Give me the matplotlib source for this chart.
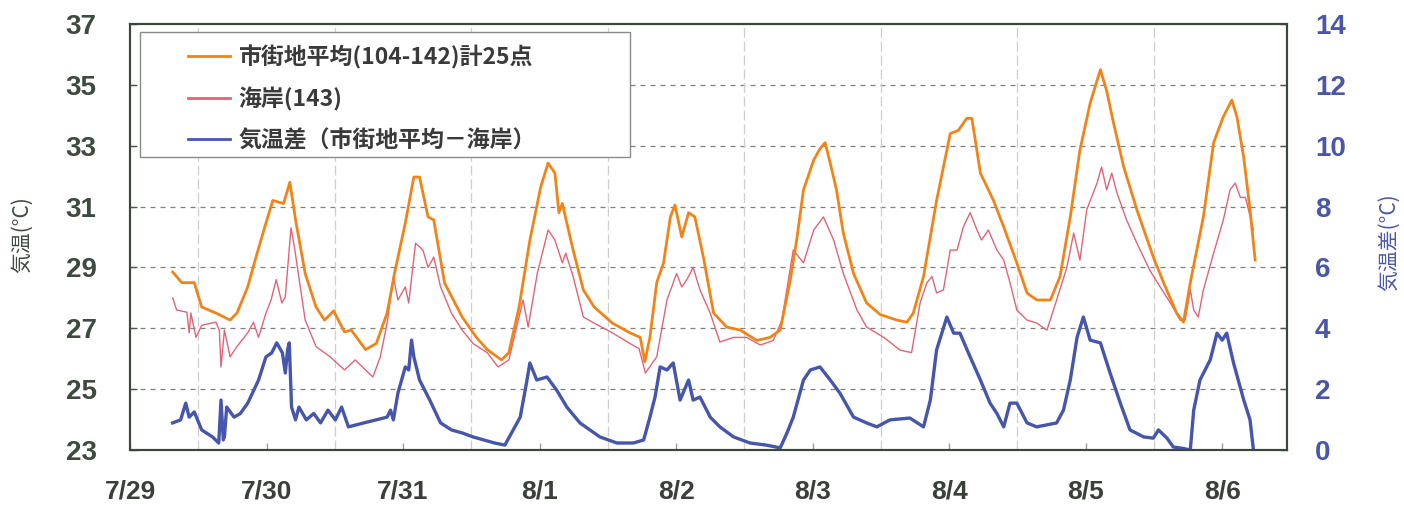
import matplotlib
matplotlib.use("Agg")
import matplotlib.pyplot as plt
from matplotlib.patches import Rectangle
from matplotlib.ticker import FixedLocator

# Time axis: hours counted from 7/29 00:00
date_labels = ["7/29", "7/30", "7/31", "8/1", "8/2", "8/3", "8/4", "8/5", "8/6"]

urban_hours = [19.5, 21.1, 23.3, 24.6, 27.1, 29.6, 30.8, 32.7, 34.0, 35.9, 37.1, 39.0, 40.1, 41.2,
               42.8, 44.7, 46.2, 47.8, 49.7, 50.9, 53.4, 55.3, 57.2, 58.5, 60.4, 61.9, 62.9, 64.4,
               65.4, 67.3, 70.4, 72.9, 74.8, 77.3, 78.6, 80.4, 82.3, 84.2, 85.5, 86.7, 87.4, 88.0,
               89.9, 91.7, 93.6, 96.8, 99.9, 101.7, 102.5, 103.4, 104.6, 105.8, 107.0, 107.8, 109.0,
               110.2, 111.3, 112.8, 114.6, 116.9, 119.3, 122.2, 124.5, 126.3, 128.0, 129.2, 130.4,
               132.2, 133.3, 134.2, 135.1, 136.2, 137.4, 139.2, 141.5, 143.9, 146.8, 148.6, 149.7,
               151.5, 153.8, 156.2, 157.6, 159.1, 160.0, 161.5, 163.8, 165.6, 167.9, 169.7, 171.4,
               173.8, 175.5, 177.3, 179.0, 180.8, 182.6, 183.7, 184.9, 186.7, 189.0, 191.9, 193.7,
               196.0, 197.2, 198.4, 200.7, 202.5, 204.2, 205.7, 206.6, 207.8, 208.9, 209.8]
urban_temp = [28.85, 28.5, 28.5, 27.7, 27.5, 27.27, 27.5, 28.36, 29.24, 30.46, 31.2, 31.1, 31.8, 30.46,
              28.8, 27.7, 27.27, 27.57, 26.88, 26.94, 26.3, 26.5, 27.5, 28.8, 30.46, 31.97, 31.97, 30.66,
              30.56, 28.49, 27.37, 26.7, 26.3, 25.96, 26.2, 27.7, 29.9, 31.64, 32.43, 32.1, 30.8, 31.1,
              29.57, 28.26, 27.7, 27.17, 26.85, 26.7, 25.9, 26.7, 28.5, 29.15, 30.66, 31.05, 30.0,
              30.8, 30.66, 29.34, 27.5, 27.04, 26.94, 26.6, 26.7, 26.94, 28.5, 29.9, 31.55,
              32.53, 32.9, 33.1, 32.43, 31.55, 30.13, 28.8, 27.83, 27.45, 27.27, 27.2, 27.5,
              28.7, 31.2, 33.4, 33.5, 33.9, 33.9, 32.1, 31.2, 30.33, 29.15, 28.16, 27.93,
              27.93, 28.7, 30.66, 32.86, 34.4, 35.5, 34.8, 33.75, 32.3, 30.9, 29.34, 28.5,
              27.5, 27.2, 28.5, 30.66, 33.1, 33.95, 34.5, 33.95, 32.6, 30.9, 29.24]

coast_hours = [19.5, 20.2, 22.0, 22.4, 22.7, 23.6, 24.6, 27.1, 27.7, 28.0, 28.6, 29.6, 30.8, 32.7,
               33.7, 34.6, 35.9, 36.8, 37.7, 38.7, 39.3, 40.3, 40.9, 42.8, 44.7, 47.2, 49.7, 51.6,
               53.4, 54.7, 56.0, 57.2, 58.3, 59.1, 60.4, 61.0, 62.2, 63.5, 64.4, 65.4, 66.6, 68.5,
               70.4, 72.3, 74.8, 76.7, 78.6, 80.4, 81.1, 82.0, 83.6, 85.5, 86.7, 88.0, 88.6, 89.9,
               91.7, 93.6, 96.8, 99.9, 101.5, 102.6, 104.6, 106.4, 108.1, 109.0, 109.9, 111.0,
               112.2, 114.0, 115.7, 118.1, 120.4, 122.8, 125.1, 126.6, 128.6, 130.4, 132.2, 133.9,
               135.7, 137.4, 139.8, 141.5, 144.5, 147.4, 149.4, 150.9, 152.1, 153.0, 153.8, 155.0,
               156.2, 157.4, 158.5, 159.7, 160.9, 161.7, 162.9, 164.4, 165.6, 166.7, 167.9, 169.7,
               171.4, 173.2, 174.9, 176.7, 177.9, 179.0, 180.2, 182.0, 182.8, 183.7, 184.6, 185.5,
               187.2, 189.0, 191.3, 193.1, 194.9, 196.6, 197.5, 198.4, 199.0, 199.8, 200.7, 202.5,
               204.2, 205.4, 206.3, 207.2, 208.1, 209.5]
coast_temp = [28.0, 27.6, 27.53, 26.85, 27.5, 26.7, 27.1, 27.2, 26.94, 25.73, 26.94, 26.06, 26.4, 26.85,
              27.2, 26.7, 27.5, 27.93, 28.6, 27.83, 28.03, 30.3, 29.67, 27.27, 26.4, 26.06, 25.63, 25.96,
              25.63, 25.4, 26.06, 27.17, 28.7, 27.93, 28.36, 27.83, 29.8, 29.57, 29.0, 29.34, 28.36, 27.5,
              26.94, 26.5, 26.2, 25.73, 25.96, 27.37, 27.93, 27.04, 28.8, 30.23, 29.9, 29.15, 29.47, 28.7,
              27.37, 27.17, 26.85, 26.5, 26.33, 25.53, 26.06, 27.93, 28.8, 28.36, 28.6, 29.0,
              28.26, 27.5, 26.55, 26.7, 26.7, 26.45, 26.6, 27.27, 29.57, 29.15, 30.23, 30.66,
              29.9, 28.8, 27.6, 27.04, 26.7, 26.28, 26.2, 27.83, 28.5, 28.7, 28.16, 28.26,
              29.57, 29.57, 30.33, 30.8, 30.23, 29.9, 30.23, 29.57, 29.24, 28.5, 27.6, 27.27,
              27.17, 26.94, 27.93, 29.0, 30.13, 29.24, 30.9, 31.77, 32.3, 31.55, 32.1, 31.45,
              30.56, 29.8, 28.9, 28.36, 27.83, 27.27, 27.27, 28.26, 27.6, 27.37, 28.26, 29.47,
              30.56, 31.55, 31.77, 31.3, 31.3, 30.23]

diff_hours = [19.5, 20.9, 21.8, 22.4, 23.3, 24.6, 26.5, 27.6, 28.0, 28.4, 28.6, 29.0, 30.3, 31.4,
              32.7, 34.6, 35.9, 36.9, 37.8, 38.8, 39.3, 39.7, 40.0, 40.4, 41.1, 41.7, 43.0, 44.3,
              45.5, 46.8, 48.1, 49.2, 50.4, 53.1, 55.3, 57.2, 57.8, 58.3, 59.1, 60.4, 61.0, 61.5,
              61.9, 62.9, 64.7, 66.6, 68.5, 70.4, 72.3, 74.2, 76.1, 77.9, 80.6, 81.7, 82.3, 83.5,
              85.3, 87.0, 88.8, 91.1, 94.6, 97.6, 100.5, 102.3, 103.4, 104.3, 105.2, 106.4, 107.5,
              108.7, 110.2, 111.0, 112.2, 114.0, 115.7, 118.1, 121.0, 123.9, 126.3, 127.5, 128.6,
              130.4, 131.6, 133.3, 135.1, 136.8, 139.2, 141.5, 143.3, 145.6, 149.1, 151.5, 152.7,
              153.8, 155.6, 156.8, 157.9, 159.7, 161.5, 163.2, 164.4, 165.6, 166.7, 167.9, 169.7,
              171.4, 174.9, 176.1, 177.3, 178.5, 179.6, 180.8, 182.6, 184.3, 186.1, 187.8, 190.2,
              191.9, 192.8, 194.3, 195.4, 197.2, 198.4, 199.0, 200.1, 201.9, 203.1, 204.0, 204.8,
              206.0, 207.8, 208.9, 209.5]
diff_temp = [0.89, 0.99, 1.54, 1.08, 1.25, 0.66, 0.43, 0.23, 1.64, 0.33, 0.43, 1.41, 1.08, 1.2,
             1.54, 2.3, 3.06, 3.19, 3.52, 3.19, 2.53, 3.29, 3.52, 1.41, 0.99, 1.41, 0.99, 1.2,
             0.89, 1.31, 0.99, 1.41, 0.76, 0.89, 0.99, 1.08, 1.31, 0.99, 1.87, 2.73, 2.63, 3.61,
             3.06, 2.3, 1.64, 0.89, 0.66, 0.56, 0.43, 0.33, 0.23, 0.16, 1.08, 2.2, 2.86, 2.3,
             2.4, 1.97, 1.41, 0.89, 0.43, 0.23, 0.23, 0.33, 1.08, 1.74, 2.73, 2.63, 2.86,
             1.64, 2.3, 1.64, 1.74, 1.08, 0.76, 0.43, 0.23, 0.16, 0.07, 0.56, 1.08,
             2.3, 2.63, 2.73, 2.3, 1.87, 1.08, 0.89, 0.76, 0.99, 1.05, 0.76, 1.64,
             3.29, 4.37, 3.84, 3.84, 3.06, 2.3, 1.54, 1.2, 0.76, 1.54, 1.54, 0.89,
             0.76, 0.89, 1.31, 2.3, 3.71, 4.37, 3.61, 3.52, 2.53, 1.54, 0.66, 0.43,
             0.39, 0.66, 0.39, 0.1, 0.05, 0.0, 1.31, 2.3, 2.96, 3.84, 3.61, 3.84,
             2.86, 1.64, 0.99, 0.0]

legend_labels = ["市街地平均(104-142)計25点", "海岸(143)", "気温差（市街地平均－海岸）"]

LEFT_COLOR = "#3e4a40"
RIGHT_COLOR = "#4a57a6"
CJK = ["Noto Sans CJK JP", "DejaVu Sans"]
NUM = ["Liberation Sans", "DejaVu Sans"]

fig = plt.figure(figsize=(14.04, 5.09), dpi=100)
ax = fig.add_axes([130 / 1404, 59 / 509, 1157 / 1404, 426 / 509])
ax2 = ax.twinx()

l1, = ax.plot(urban_hours, urban_temp, color="#f08418", lw=2.0, zorder=3)
l2, = ax.plot(coast_hours, coast_temp, color="#e06478", lw=1.0, zorder=2)
l3, = ax2.plot(diff_hours, diff_temp, color="#4656ab", lw=2.4, zorder=2)

ax.set_xlim(12, 215.4)
ax.set_ylim(23, 37)
ax2.set_ylim(0, 14)

ax.set_yticks(range(23, 38, 2))
ax2.set_yticks(range(0, 15, 2))
ax.set_xticks([12 + 24 * i for i in range(len(date_labels))])
ax.set_xticklabels(date_labels)
ax.xaxis.set_minor_locator(FixedLocator([24 * i for i in range(1, 9)]))

# grid: dashed horizontals, faint verticals at midnight
for yv in range(25, 37, 2):
    ax.axhline(yv, color="#808080", lw=0.9, ls=(0, (4, 4)), zorder=1)
for xv in range(24, 200, 24):
    ax.axvline(xv, color="#cfcfcf", lw=0.9, ls=(0, (8, 3)), zorder=1)

ax.tick_params(axis="y", direction="in", length=5, width=1, pad=24, labelsize=20,
               labelcolor=LEFT_COLOR, color="#555555")
ax.tick_params(axis="x", which="major", direction="in", length=5, width=1, pad=21,
               labelsize=19, labelcolor="#3a3f3a", color="#999999")
ax.tick_params(axis="x", which="minor", length=0)
ax2.tick_params(axis="y", direction="in", length=5, width=1, pad=20, labelsize=20,
                labelcolor=RIGHT_COLOR, color="#555555")
for lab in ax.get_yticklabels() + ax.get_xticklabels() + ax2.get_yticklabels():
    lab.set_fontfamily(NUM)
    lab.set_fontweight("bold")

for a in (ax, ax2):
    for s in a.spines.values():
        s.set_color("#3c463c")
        s.set_linewidth(1.5)

fig.text(22 / 1404, 1 - 235 / 509, "気温(°C)", rotation=90, ha="center", va="center",
         fontsize=15, color=LEFT_COLOR, family=CJK)
fig.text(1389 / 1404, 1 - 242 / 509, "気温差(°C)", rotation=90, ha="center", va="center",
         fontsize=15, color=RIGHT_COLOR, family=CJK)

# legend box
ax2.add_patch(Rectangle((10 / 1157, 1 - 133 / 426), 490 / 1157, 125 / 426,
                        transform=ax2.transAxes, facecolor="white", edgecolor="#8a8a8a",
                        lw=1.0, zorder=4))
leg = ax2.legend([l1, l2, l3], legend_labels, loc="upper left",
                 bbox_to_anchor=(58 / 1157, 1 - 21 / 426), frameon=False,
                 prop={"family": CJK, "size": 16.5, "weight": "bold"},
                 handlelength=1.85, handletextpad=0.35, labelspacing=0.78, borderpad=0,
                 borderaxespad=0)
leg.set_zorder(5)
for t in leg.get_texts():
    t.set_color("#3a3a3a")
for h in leg.legend_handles:
    h.set_linewidth(2.0)

fig.savefig("out.png", dpi=100)
